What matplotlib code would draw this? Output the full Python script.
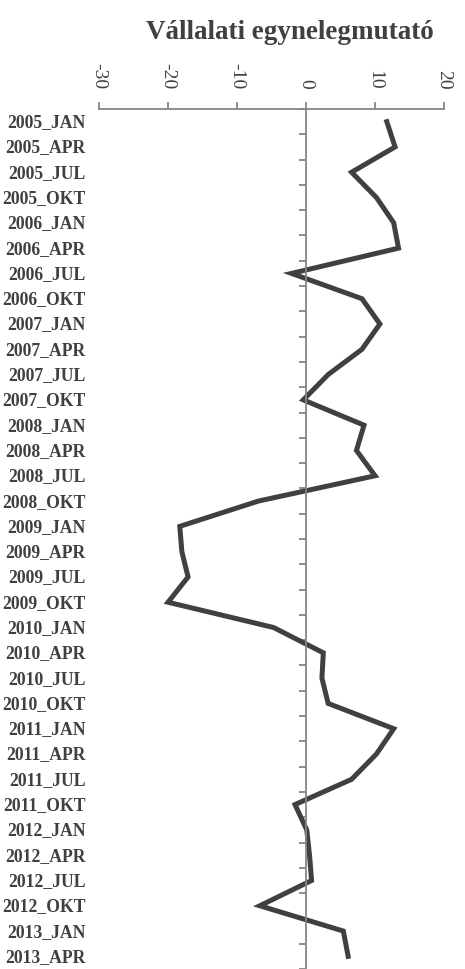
import numpy as np
import matplotlib
matplotlib.use("Agg")
from matplotlib import pyplot as plt
import matplotlib.transforms as mtransforms

title = "Vállalati egynelegmutató"
labels = ["2005_JAN", "2005_APR", "2005_JUL", "2005_OKT",
          "2006_JAN", "2006_APR", "2006_JUL", "2006_OKT",
          "2007_JAN", "2007_APR", "2007_JUL", "2007_OKT",
          "2008_JAN", "2008_APR", "2008_JUL", "2008_OKT",
          "2009_JAN", "2009_APR", "2009_JUL", "2009_OKT",
          "2010_JAN", "2010_APR", "2010_JUL", "2010_OKT",
          "2011_JAN", "2011_APR", "2011_JUL", "2011_OKT",
          "2012_JAN", "2012_APR", "2012_JUL", "2012_OKT",
          "2013_JAN", "2013_APR"]
values = [11.7, 12.9, 6.6, 10.2,
          12.7, 13.4, -2.1, 8.1,
          10.7, 8.1, 3.2, -0.4,
          8.4, 7.3, 10.0, -6.9,
          -18.3, -18.0, -17.1, -20.0,
          -4.7, 2.5, 2.3, 3.2,
          12.7, 10.2, 6.6, -1.6,
          0.1, 0.5, 0.8, -6.7,
          5.4, 6.1]
xticks = [-30, -20, -10, 0, 10, 20]

txt = '#404040'
axcol = '#868686'
plt.rcParams['font.family'] = ['Liberation Serif', 'DejaVu Serif']

fig = plt.figure(figsize=(4.65, 9.70), dpi=100)
ax = fig.add_axes([0.213, 0.0, 0.742, 0.8866])

pos = np.arange(len(labels))
ax.plot(values, pos, color='#404040', linewidth=3.6, solid_joinstyle='miter')

ax.set_xlim(-30, 20)
ax.set_ylim(len(labels) - 0.5, -0.5)

# top value axis
ax.xaxis.tick_top()
ax.set_xticks(xticks)
ax.set_xticklabels([str(t) for t in xticks], rotation=-90, fontsize=14,
                   color=txt)
ax.tick_params(axis='x', direction='out', length=5, width=1.3, color=axcol, pad=10)

# category axis sits on zero
ax.spines['left'].set_position(('data', 0))
ax.spines['left'].set_color(axcol)
ax.spines['left'].set_linewidth(1.3)
ax.spines['top'].set_color(axcol)
ax.spines['top'].set_linewidth(1.3)
ax.spines['right'].set_visible(False)
ax.spines['bottom'].set_visible(False)
ax.set_yticks(np.arange(len(labels) + 1) - 0.5)
ax.set_yticklabels([])
ax.tick_params(axis='y', direction='out', length=5, width=1.3, color=axcol)

trans = mtransforms.blended_transform_factory(ax.transAxes, ax.transData)
for i, lab in enumerate(labels):
    ax.text(-0.038, i, lab, transform=trans, ha='right', va='center',
            fontsize=12.7, fontweight='bold', color=txt)

fig.text(0.624, 0.967, title, ha='center', va='center', fontsize=19.5,
         fontweight='bold', color=txt)

fig.savefig('out.png', dpi=100)
